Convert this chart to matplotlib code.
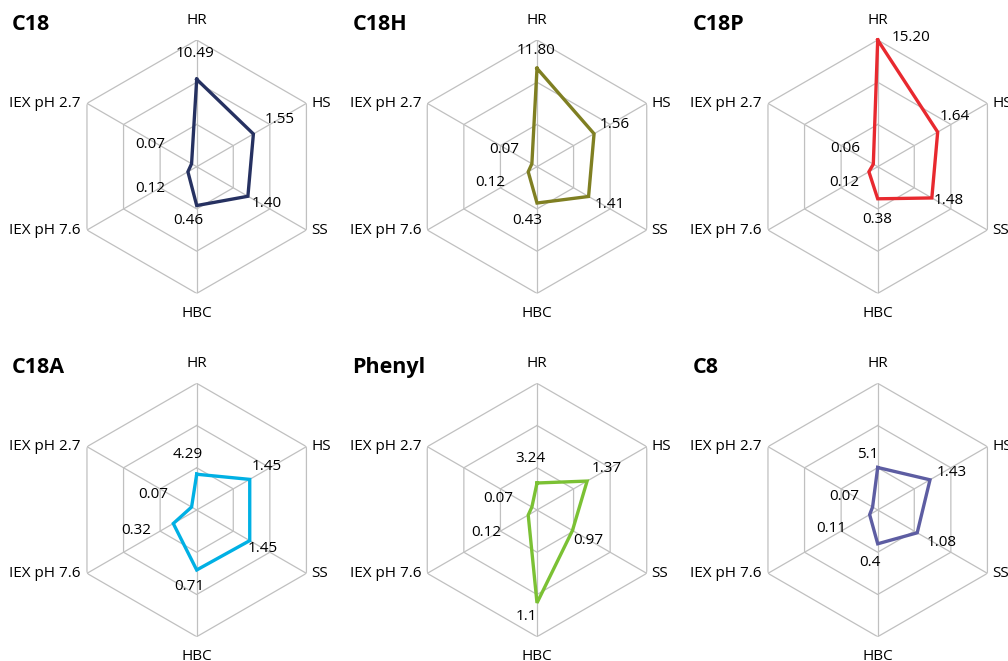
import matplotlib
matplotlib.use("Agg")
import matplotlib.pyplot as plt
import numpy as np

plt.rcParams['font.family'] = ['Open Sans', 'DejaVu Sans']

axes_names = ['HR', 'HS', 'SS', 'HBC', 'IEX pH 7.6', 'IEX pH 2.7']
# full-scale value of each axis
axis_max = [15.2, 3.0, 3.0, 1.5, 1.5, 1.5]

columns = ['C18', 'C18H', 'C18P', 'C18A', 'Phenyl', 'C8']
c18 = [10.49, 1.55, 1.40, 0.46, 0.12, 0.07]
c18h = [11.80, 1.56, 1.41, 0.43, 0.12, 0.07]
c18p = [15.20, 1.64, 1.48, 0.38, 0.12, 0.06]
c18a = [4.29, 1.45, 1.45, 0.71, 0.32, 0.07]
phenyl = [3.24, 1.37, 0.97, 1.1, 0.12, 0.07]
c8 = [5.1, 1.43, 1.08, 0.4, 0.11, 0.07]
value_text = {
    'C18': ['10.49', '1.55', '1.40', '0.46', '0.12', '0.07'],
    'C18H': ['11.80', '1.56', '1.41', '0.43', '0.12', '0.07'],
    'C18P': ['15.20', '1.64', '1.48', '0.38', '0.12', '0.06'],
    'C18A': ['4.29', '1.45', '1.45', '0.71', '0.32', '0.07'],
    'Phenyl': ['3.24', '1.37', '0.97', '1.1', '0.12', '0.07'],
    'C8': ['5.1', '1.43', '1.08', '0.4', '0.11', '0.07'],
}
series = [c18, c18h, c18p, c18a, phenyl, c8]
colors = ['#263161', '#7F7F22', '#E8292F', '#00B0E4', '#7BC134', '#5D5DA2']

# label placement, pixels from the chart centre
label_pos = {
    'C18': [(-2, 113), (83, 47), (70, -37), (-8, -54), (-46, -22), (-46, 22)],
    'C18H': [(-1, 116), (78, 42), (73, -38), (-10, -54), (-47, -16), (-33, 17)],
    'C18P': [(33, 129), (77, 50), (71, -34), (-1, -53), (-33, -16), (-32, 18)],
    'C18A': [(-9, 55), (70, 43), (66, -38), (-7, -76), (-60, -21), (-43, 16)],
    'Phenyl': [(-7, 52), (70, 42), (51, -31), (-11, -107), (-51, -22), (-39, 12)],
    'C8': [(-10, 55), (74, 38), (64, -32), (-8, -53), (-46, -18), (-33, 13)],
}

W, H = 1008, 661
R = 126.7
centres = [(196.7, 166.7), (537.0, 166.7), (877.7, 166.7),
           (196.7, 510.0), (537.0, 510.0), (877.7, 510.0)]
FS = 11

fig = plt.figure(figsize=(W / 100, H / 100), dpi=100)

theta = np.deg2rad(np.arange(6) * 60.0)
theta_closed = np.append(theta, theta[0])

for name, vals, col, (cx, cy) in zip(columns, series, colors, centres):
    ax = fig.add_axes([(cx - R) / W, (H - cy - R) / H, 2 * R / W, 2 * R / H],
                      projection='polar')
    ax.set_theta_zero_location('N')
    ax.set_theta_direction(-1)
    ax.set_ylim(0, 1)
    ax.grid(False)
    ax.spines['polar'].set_visible(False)
    ax.set_xticks([])
    ax.set_yticks([])
    ax.patch.set_alpha(0)

    # hexagonal rings and spokes
    for ring in (1 / 3, 2 / 3, 1.0):
        ax.plot(theta_closed, [ring] * 7, color='#C0C0C0', lw=0.9, zorder=1)
    for t in theta:
        ax.plot([t, t], [0, 1], color='#C0C0C0', lw=0.9, zorder=1)

    r = np.array(vals) / np.array(axis_max)
    ax.plot(theta_closed, np.append(r, r[0]), color=col, lw=2.4,
            solid_joinstyle='miter', zorder=3, clip_on=False)

    for t, txt, (dx, dy) in zip(theta, value_text[name], label_pos[name]):
        ax.annotate(txt, xy=(0, 0), xytext=(dx, dy), textcoords='offset pixels',
                    ha='center', va='center', fontsize=FS, color='#000000')

    # axis names around the outer ring
    ax.annotate('HR', xy=(0, 1), xytext=(0, 20), textcoords='offset pixels',
                ha='center', va='center', fontsize=FS, annotation_clip=False)
    ax.annotate('HBC', xy=(np.pi, 1), xytext=(0, -20), textcoords='offset pixels',
                ha='center', va='center', fontsize=FS, annotation_clip=False)
    for i in (1, 2):
        ax.annotate(axes_names[i], xy=(theta[i], 1), xytext=(5, 0),
                    textcoords='offset pixels', ha='left', va='center',
                    fontsize=FS, annotation_clip=False)
    for i in (4, 5):
        ax.annotate(axes_names[i], xy=(theta[i], 1), xytext=(-6, 0),
                    textcoords='offset pixels', ha='right', va='center',
                    fontsize=FS, annotation_clip=False)

    fig.text((cx - 184.5) / W, 1 - (cy - 137) / H, name, fontsize=15.5,
             fontweight='bold', ha='left', va='baseline')

fig.savefig('out.png', dpi=100)
